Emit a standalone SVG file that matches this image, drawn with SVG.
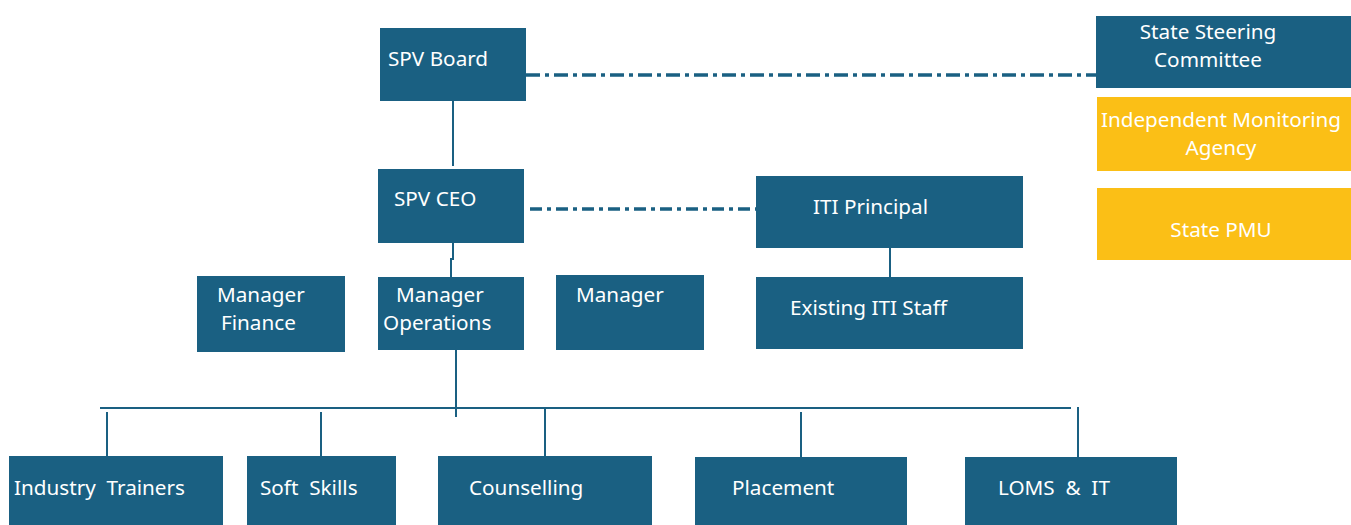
<svg xmlns="http://www.w3.org/2000/svg" width="1351" height="525" viewBox="0 0 1351 525">
<style>
.b{fill:#1a6082}
.y{fill:#fbbf16}
.t{font-family:"Noto Sans","Liberation Sans",sans-serif;font-size:20.7px;fill:#ffffff;white-space:pre}
.m{text-anchor:middle}
.c{stroke:#1a6082;stroke-width:2;fill:none}
.d{stroke:#1a6082;stroke-width:3.5;fill:none}
</style>
<rect width="1351" height="525" fill="#ffffff"/>
<g id="connectors">
<line class="d" x1="526" y1="75" x2="1096" y2="75" stroke-width="2.5" stroke-dasharray="14 5 4 5"/>
<line class="d" x1="530" y1="209" x2="756" y2="209" stroke-dasharray="12 5 4 5"/>
<line class="c" x1="453" y1="101" x2="453" y2="166"/>
<path class="c" d="M453 243 V259 H451 V277"/>
<line class="c" x1="890" y1="248" x2="890" y2="277"/>
<line class="c" x1="456" y1="350" x2="456" y2="417"/>
<line class="c" x1="100" y1="408" x2="1071" y2="408"/>
<line class="c" x1="107" y1="412" x2="107" y2="456"/>
<line class="c" x1="321" y1="412" x2="321" y2="456"/>
<line class="c" x1="545" y1="407" x2="545" y2="457"/>
<line class="c" x1="801" y1="412" x2="801" y2="457"/>
<line class="c" x1="1078" y1="407" x2="1078" y2="457"/>
</g>
<g id="spv-board"><rect class="b" x="380" y="28" width="146" height="73"/><text class="t" x="388" y="66">SPV Board</text></g>
<g id="state-steering"><rect class="b" x="1096" y="16" width="255" height="72"/><text class="t m" x="1208" y="39">State Steering</text><text class="t m" x="1208" y="67">Committee</text></g>
<g id="ima"><rect class="y" x="1097" y="97" width="254" height="74"/><text class="t m" x="1221" y="127">Independent Monitoring</text><text class="t m" x="1221" y="155">Agency</text></g>
<g id="state-pmu"><rect class="y" x="1097" y="188" width="254" height="72"/><text class="t m" x="1221" y="237">State PMU</text></g>
<g id="spv-ceo"><rect class="b" x="378" y="169" width="146" height="74"/><text class="t" x="394" y="206">SPV CEO</text></g>
<g id="iti-principal"><rect class="b" x="756" y="176" width="267" height="72"/><text class="t" x="813" y="214">ITI Principal</text></g>
<g id="manager-finance"><rect class="b" x="197" y="276" width="148" height="76"/><text class="t" x="217" y="302">Manager</text><text class="t" x="221" y="330">Finance</text></g>
<g id="manager-operations"><rect class="b" x="378" y="277" width="146" height="73"/><text class="t" x="396" y="302">Manager</text><text class="t" x="383" y="330">Operations</text></g>
<g id="manager"><rect class="b" x="556" y="275" width="148" height="75"/><text class="t" x="576" y="302">Manager</text></g>
<g id="existing-staff"><rect class="b" x="756" y="277" width="267" height="72"/><text class="t" x="790" y="315">Existing ITI Staff</text></g>
<g id="industry-trainers"><rect class="b" x="9" y="456" width="214" height="69"/><text class="t" x="14" y="495">Industry  Trainers</text></g>
<g id="soft-skills"><rect class="b" x="247" y="456" width="149" height="69"/><text class="t" x="260" y="495">Soft  Skills</text></g>
<g id="counselling"><rect class="b" x="438" y="456" width="214" height="69"/><text class="t" x="469" y="495">Counselling</text></g>
<g id="placement"><rect class="b" x="695" y="457" width="212" height="68"/><text class="t" x="732" y="495">Placement</text></g>
<g id="loms"><rect class="b" x="965" y="457" width="212" height="68"/><text class="t" x="998" y="495">LOMS  &amp;  IT</text></g>
</svg>
